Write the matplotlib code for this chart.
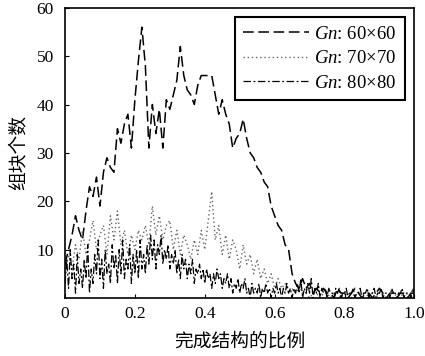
import numpy as np
import matplotlib
matplotlib.use("Agg")
import matplotlib.pyplot as plt

plt.rcParams['font.family'] = ['Liberation Serif', 'Noto Sans CJK SC']
plt.rcParams['mathtext.fontset'] = 'custom'
plt.rcParams['mathtext.it'] = 'Liberation Serif:italic'
plt.rcParams['mathtext.rm'] = 'Liberation Serif'

# Completion ratio grids
x_coarse = np.round(np.arange(0, 101) * 0.01, 3)
x_fine = np.round(np.arange(0, 201) * 0.005, 4)

# Gn: 60x60 (sampled every 0.01)
gn60 = [7, 10, 13, 17, 14, 12, 18, 23, 21, 25,
        19, 26, 29, 27, 26, 35, 32, 36, 38, 31,
        41, 49, 56, 48, 31, 40, 34, 39, 31, 41,
        39, 42, 45, 52, 46, 43, 42, 40, 44, 46,
        46, 46, 46, 42, 38, 41, 38, 36, 31, 33,
        34, 37, 33, 30, 29, 27, 26, 24, 23, 19,
        17, 15, 14, 11, 10, 5, 3, 2, 4, 2,
        3, 1, 2, 1, 2, 1, 1, 0, 2, 1,
        1, 0, 1, 2, 1, 0, 1, 1, 0, 1,
        2, 1, 0, 1, 1, 0, 1, 1, 0, 1, 1]

# Gn: 70x70 (sampled every 0.01)
gn70 = [5, 9, 6, 11, 8, 14, 9, 12, 16, 10,
        13, 15, 9, 17, 12, 18, 11, 14, 9, 13,
        10, 14, 12, 15, 11, 19, 13, 17, 12, 15,
        16, 10, 14, 9, 13, 11, 8, 12, 9, 14,
        10, 16, 22, 12, 15, 9, 13, 8, 12, 10,
        6, 11, 7, 9, 5, 8, 4, 6, 3, 5,
        2, 4, 2, 3, 1, 2, 1, 2, 1, 1,
        0, 1, 1, 0, 1, 1, 0, 1, 1, 0,
        1, 1, 0, 1, 0, 1, 1, 0, 1, 0,
        1, 1, 0, 1, 0, 1, 1, 0, 1, 0, 1]

# Gn: 80x80 (sampled every 0.005)
gn80 = [3, 8, 2, 10, 4, 7, 1, 9, 3, 6,
        2, 8, 4, 11, 1, 6, 3, 9, 5, 12,
        4, 8, 2, 10, 5, 7, 3, 11, 6, 9,
        3, 10, 5, 12, 4, 8, 6, 11, 3, 9,
        5, 10, 4, 12, 6, 9, 5, 11, 7, 13,
        8, 12, 6, 11, 9, 13, 7, 10, 8, 11,
        6, 9, 7, 10, 5, 8, 4, 9, 6, 8,
        4, 7, 5, 8, 3, 6, 5, 7, 4, 6,
        3, 6, 4, 5, 2, 5, 3, 6, 4, 5,
        2, 4, 3, 5, 2, 4, 1, 3, 2, 4,
        1, 3, 2, 4, 1, 2, 0, 3, 1, 2,
        1, 3, 0, 2, 1, 3, 1, 2, 0, 2,
        1, 3, 1, 2, 0, 2, 1, 3, 1, 2,
        0, 2, 1, 3, 1, 4, 0, 2, 1, 3,
        1, 4, 0, 2, 1, 3, 0, 2, 1, 2,
        0, 2, 1, 1, 0, 2, 1, 2, 0, 1,
        1, 2, 0, 1, 1, 2, 0, 1, 1, 2,
        0, 1, 1, 2, 0, 1, 1, 2, 0, 1,
        1, 2, 0, 1, 1, 1, 0, 2, 1, 1,
        0, 1, 1, 2, 0, 1, 1, 1, 0, 2,
        1]

labels = [r'$Gn$: 60×60', r'$Gn$: 70×70', r'$Gn$: 80×80']
x_ticks = [0, 0.2, 0.4, 0.6, 0.8, 1.0]
x_ticklabels = ['0', '0.2', '0.4', '0.6', '0.8', '1.0']
y_ticks = [10, 20, 30, 40, 50, 60]

fig = plt.figure(figsize=(4.25, 3.56), dpi=100)
ax = fig.add_axes([0.153, 0.163, 0.822, 0.815])

ax.plot(x_coarse, gn60, color='black', lw=1.1, ls=(0, (7, 3)), label=labels[0])
ax.plot(x_coarse, gn70, color='#666666', lw=1.0, ls=(0, (1, 2)), label=labels[1])
ax.plot(x_fine, gn80, color='black', lw=0.9, ls=(0, (6, 2, 1.5, 2)), label=labels[2])

ax.set_xlim(0, 1.0)
ax.set_ylim(0, 60)
ax.set_xticks(x_ticks)
ax.set_xticklabels(x_ticklabels)
ax.set_yticks(y_ticks)
ax.tick_params(direction='in', length=3, labelsize=12.5, width=0.8)
ax.tick_params(axis='y', pad=8)
ax.tick_params(axis='x', pad=6)
for s in ax.spines.values():
    s.set_linewidth(1.2)

ax.set_xlabel('完成结构的比例', family=['Noto Sans CJK SC'], fontsize=13.5, labelpad=6)
ax.set_ylabel('组块个数', family=['Noto Sans CJK SC'], fontsize=13.5, labelpad=6)

leg = ax.legend(loc='upper right', fontsize=13.5, handlelength=3.5, handletextpad=0.3,
                borderpad=0.45, labelspacing=0.4, fancybox=False, framealpha=1,
                edgecolor='black', borderaxespad=0.5)
leg.get_frame().set_linewidth(1.5)

fig.savefig('out.png', dpi=100)
